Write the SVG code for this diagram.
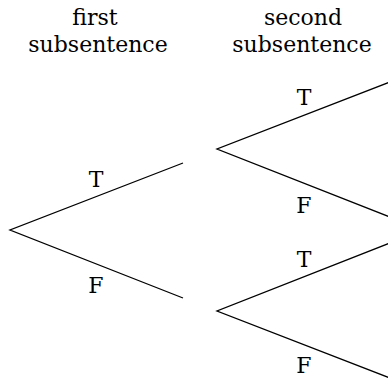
<svg xmlns="http://www.w3.org/2000/svg" width="388" height="383" viewBox="0 0 388 383">
<style>
.t{font-family:'DejaVu Serif','Liberation Serif',serif;font-size:22px;fill:#000;text-anchor:middle}
.e{stroke:#000;stroke-width:1.3;fill:none}
</style>
<rect width="388" height="383" fill="#fff"/>
<g id="header1"><text class="t" x="95" y="25">first</text><text class="t" x="98" y="52">subsentence</text></g>
<g id="header2"><text class="t" x="303" y="25">second</text><text class="t" x="302" y="52">subsentence</text></g>
<g id="connectors">
<path class="e" d="M183,163 L10,230 L183,298"/>
<path class="e" d="M390,82 L217,149 L390,217"/>
<path class="e" d="M390,243 L217,311 L390,378"/>
</g>
<g id="labels">
<text class="t" x="96" y="187">T</text>
<text class="t" x="96" y="293">F</text>
<text class="t" x="304" y="105">T</text>
<text class="t" x="304" y="213">F</text>
<text class="t" x="304" y="267">T</text>
<text class="t" x="304" y="373">F</text>
</g>
</svg>
